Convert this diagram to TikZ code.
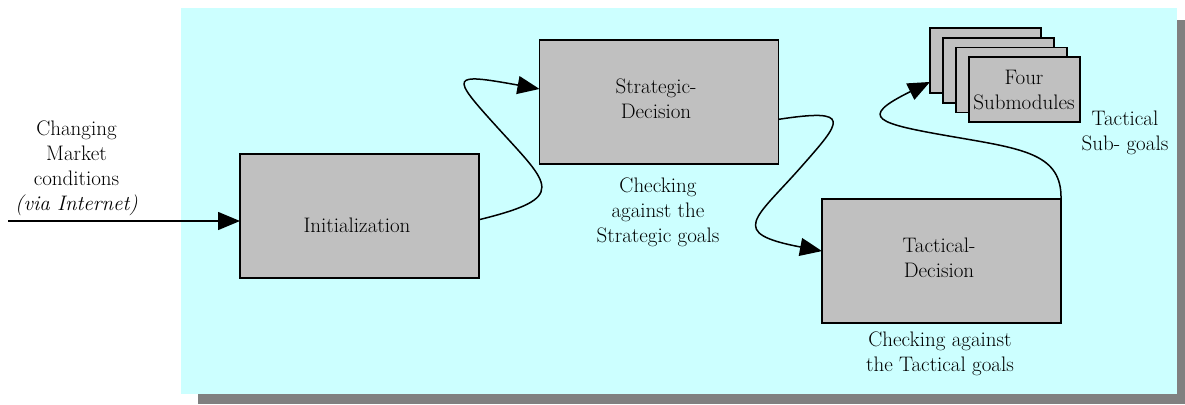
\documentclass[tikz,border=0pt]{standalone}
\usepackage{fontspec}
\usetikzlibrary{arrows.meta,calc}
\definecolor{bgcyan}{HTML}{CCFFFF}
\definecolor{boxgray}{HTML}{C0C0C0}
\definecolor{shadowgray}{HTML}{808080}
\begin{document}
\begin{tikzpicture}[x=1pt,y=-1pt,
  modbox/.style={draw=black,line width=1.5pt,fill=boxgray,inner sep=0pt,outer sep=0pt,minimum width=239pt,minimum height=124pt},
  subbox/.style={draw=black,line width=1.5pt,fill=boxgray,inner sep=0pt,outer sep=0pt,minimum width=111pt,minimum height=65pt},
  lbl/.style={align=center,inner sep=0pt,font=\fontsize{21}{25}\selectfont},
  conn/.style={line width=1.5pt,-{Triangle[length=22pt,width=18pt]}}]
\useasboundingbox (0,0) rectangle (1185,404);
% background panel with shadow
\fill[shadowgray] (198,20) rectangle (1185,404);
\fill[bgcyan] (181,8) rectangle (1177,394);
% main boxes
\node[modbox] (init) at (359.5,216) {};
\node[modbox] (strat) at (659,102) {};
\node[modbox] (tact) at (941.5,261) {};
% stacked submodules
\node[subbox] (sub1) at (985.5,60.5) {};
\node[subbox] (sub2) at (998.5,70.5) {};
\node[subbox] (sub3) at (1011.5,80) {};
\node[subbox] (sub4) at (1024.5,89.5) {};
% texts
\node[lbl] (inittxt) at (357,225) {Initialization};
\node[lbl] (strattxt) at (656,99) {Strategic-\\Decision};
\node[lbl] (tacttxt) at (939,257.5) {Tactical-\\Decision};
\node[lbl] (subtxt) at (1024,90) {Four\\Submodules};
\node[lbl] (inplbl) at (76.5,168) {Changing\\Market\\conditions\\\textit{(via Internet)}};
\node[lbl] (chk1) at (658,212.5) {Checking\\against the\\Strategic goals};
\node[lbl] (chk2) at (940,354) {Checking against\\the Tactical goals};
\node[lbl] (subgoals) at (1125,132.5) {Tactical\\Sub- goals};
% connectors
\coordinate (inp) at (8,221);
\draw[conn] (inp) -- (inp -| init.west);
\coordinate (m1) at (497,127);
\draw[conn] ($(init.north east)!0.53!(init.south east)$)
  .. controls (569,197.5) and (550.6,186) .. (m1)
  .. controls (450,75.2) and (450,72.8) .. ($(strat.north west)!0.395!(strat.south west)$);
\coordinate (m2) at (801.5,166.5);
\draw[conn] ($(strat.north east)!0.64!(strat.south east)$)
  .. controls (854,107.75) and (841.1,121.5) .. (m2)
  .. controls (755.3,219) and (727,233) .. ($(tact.north west)!0.42!(tact.south west)$);
\coordinate (m3) at (954.5,137);
\draw[conn] (tact.north east)
  .. controls (1062,154) and (1023.5,148.9) .. (m3)
  .. controls (875.7,123.4) and (856.8,118) .. ($(sub1.north west)!0.83!(sub1.south west)$);
\end{tikzpicture}
\end{document}
